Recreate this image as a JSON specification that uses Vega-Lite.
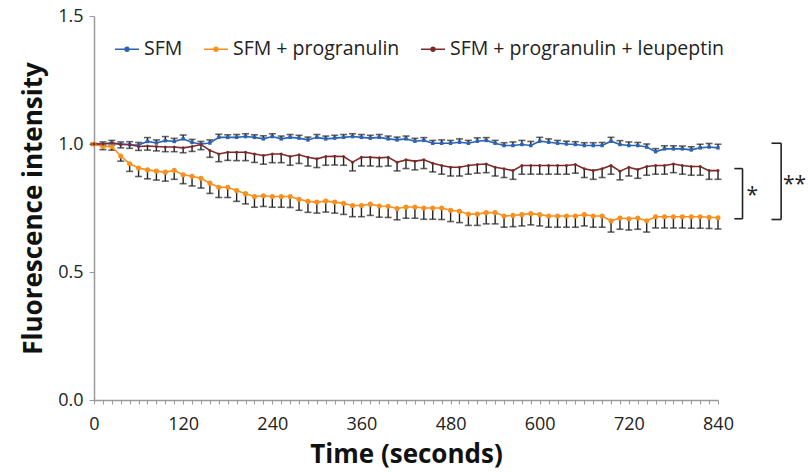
{
"$schema":"https://vega.github.io/schema/vega-lite/v6.json",
"width":624,"height":384,
"autosize":{"type":"none"},
"padding":{"left":94,"top":16,"right":90,"bottom":72},
"background":"white",
"config":{"view":{"stroke":null}},
"datasets":{
"d":[
{"t":0,"s":"SFM","v":1.000,"e":1.003},{"t":12,"s":"SFM","v":1.000,"e":1.008},{"t":24,"s":"SFM","v":1.004,"e":1.014},{"t":36,"s":"SFM","v":1.000,"e":1.008},{"t":48,"s":"SFM","v":0.997,"e":1.009},{"t":60,"s":"SFM","v":0.996,"e":1.006},{"t":72,"s":"SFM","v":1.010,"e":1.025},{"t":84,"s":"SFM","v":1.004,"e":1.016},{"t":96,"s":"SFM","v":1.013,"e":1.029},{"t":108,"s":"SFM","v":1.010,"e":1.022},{"t":120,"s":"SFM","v":1.020,"e":1.035},{"t":132,"s":"SFM","v":1.006,"e":1.018},{"t":144,"s":"SFM","v":1.000,"e":1.010},{"t":156,"s":"SFM","v":1.004,"e":1.016},{"t":168,"s":"SFM","v":1.026,"e":1.038},{"t":180,"s":"SFM","v":1.026,"e":1.036},{"t":192,"s":"SFM","v":1.026,"e":1.037},{"t":204,"s":"SFM","v":1.029,"e":1.040},{"t":216,"s":"SFM","v":1.026,"e":1.036},{"t":228,"s":"SFM","v":1.020,"e":1.032},{"t":240,"s":"SFM","v":1.029,"e":1.040},{"t":252,"s":"SFM","v":1.020,"e":1.031},{"t":264,"s":"SFM","v":1.026,"e":1.037},{"t":276,"s":"SFM","v":1.023,"e":1.034},{"t":288,"s":"SFM","v":1.016,"e":1.027},{"t":300,"s":"SFM","v":1.026,"e":1.037},{"t":312,"s":"SFM","v":1.020,"e":1.031},{"t":324,"s":"SFM","v":1.023,"e":1.034},{"t":336,"s":"SFM","v":1.026,"e":1.037},{"t":348,"s":"SFM","v":1.029,"e":1.040},{"t":360,"s":"SFM","v":1.026,"e":1.037},{"t":372,"s":"SFM","v":1.023,"e":1.034},{"t":384,"s":"SFM","v":1.026,"e":1.037},{"t":396,"s":"SFM","v":1.020,"e":1.031},{"t":408,"s":"SFM","v":1.016,"e":1.027},{"t":420,"s":"SFM","v":1.020,"e":1.031},{"t":432,"s":"SFM","v":1.011,"e":1.022},{"t":444,"s":"SFM","v":1.014,"e":1.025},{"t":456,"s":"SFM","v":1.003,"e":1.014},{"t":468,"s":"SFM","v":1.003,"e":1.016},{"t":480,"s":"SFM","v":1.003,"e":1.014},{"t":492,"s":"SFM","v":1.007,"e":1.020},{"t":504,"s":"SFM","v":1.003,"e":1.014},{"t":516,"s":"SFM","v":1.011,"e":1.024},{"t":528,"s":"SFM","v":1.014,"e":1.025},{"t":540,"s":"SFM","v":1.003,"e":1.014},{"t":552,"s":"SFM","v":0.994,"e":1.005},{"t":564,"s":"SFM","v":0.994,"e":1.008},{"t":576,"s":"SFM","v":0.998,"e":1.014},{"t":588,"s":"SFM","v":0.994,"e":1.010},{"t":600,"s":"SFM","v":1.011,"e":1.026},{"t":612,"s":"SFM","v":1.007,"e":1.020},{"t":624,"s":"SFM","v":1.003,"e":1.014},{"t":636,"s":"SFM","v":1.000,"e":1.011},{"t":648,"s":"SFM","v":0.998,"e":1.009},{"t":660,"s":"SFM","v":0.994,"e":1.005},{"t":672,"s":"SFM","v":0.994,"e":1.005},{"t":684,"s":"SFM","v":0.994,"e":1.006},{"t":696,"s":"SFM","v":1.011,"e":1.026},{"t":708,"s":"SFM","v":0.998,"e":1.013},{"t":720,"s":"SFM","v":0.994,"e":1.008},{"t":732,"s":"SFM","v":0.994,"e":1.006},{"t":744,"s":"SFM","v":0.988,"e":1.000},{"t":756,"s":"SFM","v":0.970,"e":0.982},{"t":768,"s":"SFM","v":0.981,"e":0.993},{"t":780,"s":"SFM","v":0.981,"e":0.993},{"t":792,"s":"SFM","v":0.981,"e":0.992},{"t":804,"s":"SFM","v":0.977,"e":0.989},{"t":816,"s":"SFM","v":0.985,"e":0.999},{"t":828,"s":"SFM","v":0.988,"e":1.002},{"t":840,"s":"SFM","v":0.985,"e":0.999},
{"t":0,"s":"SFM + progranulin","v":1.000,"e":1.000},{"t":12,"s":"SFM + progranulin","v":0.990,"e":0.978},{"t":24,"s":"SFM + progranulin","v":0.990,"e":0.976},{"t":36,"s":"SFM + progranulin","v":0.953,"e":0.933},{"t":48,"s":"SFM + progranulin","v":0.923,"e":0.893},{"t":60,"s":"SFM + progranulin","v":0.906,"e":0.873},{"t":72,"s":"SFM + progranulin","v":0.899,"e":0.864},{"t":84,"s":"SFM + progranulin","v":0.894,"e":0.859},{"t":96,"s":"SFM + progranulin","v":0.890,"e":0.855},{"t":108,"s":"SFM + progranulin","v":0.897,"e":0.862},{"t":120,"s":"SFM + progranulin","v":0.880,"e":0.845},{"t":132,"s":"SFM + progranulin","v":0.874,"e":0.836},{"t":144,"s":"SFM + progranulin","v":0.866,"e":0.828},{"t":156,"s":"SFM + progranulin","v":0.847,"e":0.807},{"t":168,"s":"SFM + progranulin","v":0.831,"e":0.791},{"t":180,"s":"SFM + progranulin","v":0.831,"e":0.791},{"t":192,"s":"SFM + progranulin","v":0.818,"e":0.776},{"t":204,"s":"SFM + progranulin","v":0.806,"e":0.766},{"t":216,"s":"SFM + progranulin","v":0.795,"e":0.753},{"t":228,"s":"SFM + progranulin","v":0.798,"e":0.756},{"t":240,"s":"SFM + progranulin","v":0.795,"e":0.753},{"t":252,"s":"SFM + progranulin","v":0.795,"e":0.753},{"t":264,"s":"SFM + progranulin","v":0.795,"e":0.752},{"t":276,"s":"SFM + progranulin","v":0.784,"e":0.741},{"t":288,"s":"SFM + progranulin","v":0.776,"e":0.733},{"t":300,"s":"SFM + progranulin","v":0.773,"e":0.730},{"t":312,"s":"SFM + progranulin","v":0.777,"e":0.734},{"t":324,"s":"SFM + progranulin","v":0.773,"e":0.730},{"t":336,"s":"SFM + progranulin","v":0.768,"e":0.725},{"t":348,"s":"SFM + progranulin","v":0.760,"e":0.716},{"t":360,"s":"SFM + progranulin","v":0.760,"e":0.716},{"t":372,"s":"SFM + progranulin","v":0.765,"e":0.721},{"t":384,"s":"SFM + progranulin","v":0.758,"e":0.714},{"t":396,"s":"SFM + progranulin","v":0.757,"e":0.713},{"t":408,"s":"SFM + progranulin","v":0.748,"e":0.704},{"t":420,"s":"SFM + progranulin","v":0.754,"e":0.710},{"t":432,"s":"SFM + progranulin","v":0.754,"e":0.710},{"t":444,"s":"SFM + progranulin","v":0.750,"e":0.706},{"t":456,"s":"SFM + progranulin","v":0.750,"e":0.706},{"t":468,"s":"SFM + progranulin","v":0.750,"e":0.705},{"t":480,"s":"SFM + progranulin","v":0.741,"e":0.697},{"t":492,"s":"SFM + progranulin","v":0.737,"e":0.693},{"t":504,"s":"SFM + progranulin","v":0.726,"e":0.682},{"t":516,"s":"SFM + progranulin","v":0.726,"e":0.682},{"t":528,"s":"SFM + progranulin","v":0.732,"e":0.688},{"t":540,"s":"SFM + progranulin","v":0.732,"e":0.688},{"t":552,"s":"SFM + progranulin","v":0.719,"e":0.675},{"t":564,"s":"SFM + progranulin","v":0.721,"e":0.677},{"t":576,"s":"SFM + progranulin","v":0.724,"e":0.680},{"t":588,"s":"SFM + progranulin","v":0.728,"e":0.684},{"t":600,"s":"SFM + progranulin","v":0.724,"e":0.680},{"t":612,"s":"SFM + progranulin","v":0.719,"e":0.675},{"t":624,"s":"SFM + progranulin","v":0.719,"e":0.675},{"t":636,"s":"SFM + progranulin","v":0.719,"e":0.675},{"t":648,"s":"SFM + progranulin","v":0.719,"e":0.675},{"t":660,"s":"SFM + progranulin","v":0.724,"e":0.680},{"t":672,"s":"SFM + progranulin","v":0.719,"e":0.675},{"t":684,"s":"SFM + progranulin","v":0.719,"e":0.675},{"t":696,"s":"SFM + progranulin","v":0.700,"e":0.656},{"t":708,"s":"SFM + progranulin","v":0.711,"e":0.667},{"t":720,"s":"SFM + progranulin","v":0.708,"e":0.664},{"t":732,"s":"SFM + progranulin","v":0.711,"e":0.667},{"t":744,"s":"SFM + progranulin","v":0.700,"e":0.656},{"t":756,"s":"SFM + progranulin","v":0.716,"e":0.672},{"t":768,"s":"SFM + progranulin","v":0.716,"e":0.672},{"t":780,"s":"SFM + progranulin","v":0.716,"e":0.672},{"t":792,"s":"SFM + progranulin","v":0.716,"e":0.672},{"t":804,"s":"SFM + progranulin","v":0.716,"e":0.671},{"t":816,"s":"SFM + progranulin","v":0.716,"e":0.671},{"t":828,"s":"SFM + progranulin","v":0.714,"e":0.670},{"t":840,"s":"SFM + progranulin","v":0.712,"e":0.668},
{"t":0,"s":"SFM + progranulin + leupeptin","v":1.000,"e":0.996},{"t":12,"s":"SFM + progranulin + leupeptin","v":1.000,"e":0.994},{"t":24,"s":"SFM + progranulin + leupeptin","v":1.004,"e":0.996},{"t":36,"s":"SFM + progranulin + leupeptin","v":0.998,"e":0.985},{"t":48,"s":"SFM + progranulin + leupeptin","v":0.998,"e":0.983},{"t":60,"s":"SFM + progranulin + leupeptin","v":0.990,"e":0.975},{"t":72,"s":"SFM + progranulin + leupeptin","v":0.992,"e":0.976},{"t":84,"s":"SFM + progranulin + leupeptin","v":0.990,"e":0.973},{"t":96,"s":"SFM + progranulin + leupeptin","v":0.988,"e":0.970},{"t":108,"s":"SFM + progranulin + leupeptin","v":0.988,"e":0.970},{"t":120,"s":"SFM + progranulin + leupeptin","v":0.985,"e":0.966},{"t":132,"s":"SFM + progranulin + leupeptin","v":0.990,"e":0.971},{"t":144,"s":"SFM + progranulin + leupeptin","v":0.998,"e":0.978},{"t":156,"s":"SFM + progranulin + leupeptin","v":0.975,"e":0.948},{"t":168,"s":"SFM + progranulin + leupeptin","v":0.961,"e":0.931},{"t":180,"s":"SFM + progranulin + leupeptin","v":0.968,"e":0.936},{"t":192,"s":"SFM + progranulin + leupeptin","v":0.968,"e":0.935},{"t":204,"s":"SFM + progranulin + leupeptin","v":0.968,"e":0.935},{"t":216,"s":"SFM + progranulin + leupeptin","v":0.961,"e":0.928},{"t":228,"s":"SFM + progranulin + leupeptin","v":0.955,"e":0.921},{"t":240,"s":"SFM + progranulin + leupeptin","v":0.961,"e":0.927},{"t":252,"s":"SFM + progranulin + leupeptin","v":0.961,"e":0.927},{"t":264,"s":"SFM + progranulin + leupeptin","v":0.951,"e":0.917},{"t":276,"s":"SFM + progranulin + leupeptin","v":0.958,"e":0.924},{"t":288,"s":"SFM + progranulin + leupeptin","v":0.948,"e":0.914},{"t":300,"s":"SFM + progranulin + leupeptin","v":0.942,"e":0.908},{"t":312,"s":"SFM + progranulin + leupeptin","v":0.951,"e":0.917},{"t":324,"s":"SFM + progranulin + leupeptin","v":0.952,"e":0.918},{"t":336,"s":"SFM + progranulin + leupeptin","v":0.951,"e":0.917},{"t":348,"s":"SFM + progranulin + leupeptin","v":0.929,"e":0.895},{"t":360,"s":"SFM + progranulin + leupeptin","v":0.948,"e":0.914},{"t":372,"s":"SFM + progranulin + leupeptin","v":0.948,"e":0.914},{"t":384,"s":"SFM + progranulin + leupeptin","v":0.946,"e":0.912},{"t":396,"s":"SFM + progranulin + leupeptin","v":0.948,"e":0.914},{"t":408,"s":"SFM + progranulin + leupeptin","v":0.929,"e":0.895},{"t":420,"s":"SFM + progranulin + leupeptin","v":0.938,"e":0.904},{"t":432,"s":"SFM + progranulin + leupeptin","v":0.933,"e":0.899},{"t":444,"s":"SFM + progranulin + leupeptin","v":0.938,"e":0.904},{"t":456,"s":"SFM + progranulin + leupeptin","v":0.925,"e":0.891},{"t":468,"s":"SFM + progranulin + leupeptin","v":0.916,"e":0.882},{"t":480,"s":"SFM + progranulin + leupeptin","v":0.909,"e":0.875},{"t":492,"s":"SFM + progranulin + leupeptin","v":0.909,"e":0.875},{"t":504,"s":"SFM + progranulin + leupeptin","v":0.916,"e":0.882},{"t":516,"s":"SFM + progranulin + leupeptin","v":0.920,"e":0.886},{"t":528,"s":"SFM + progranulin + leupeptin","v":0.922,"e":0.888},{"t":540,"s":"SFM + progranulin + leupeptin","v":0.909,"e":0.875},{"t":552,"s":"SFM + progranulin + leupeptin","v":0.903,"e":0.869},{"t":564,"s":"SFM + progranulin + leupeptin","v":0.896,"e":0.862},{"t":576,"s":"SFM + progranulin + leupeptin","v":0.916,"e":0.882},{"t":588,"s":"SFM + progranulin + leupeptin","v":0.916,"e":0.882},{"t":600,"s":"SFM + progranulin + leupeptin","v":0.916,"e":0.882},{"t":612,"s":"SFM + progranulin + leupeptin","v":0.916,"e":0.882},{"t":624,"s":"SFM + progranulin + leupeptin","v":0.916,"e":0.882},{"t":636,"s":"SFM + progranulin + leupeptin","v":0.916,"e":0.882},{"t":648,"s":"SFM + progranulin + leupeptin","v":0.920,"e":0.886},{"t":660,"s":"SFM + progranulin + leupeptin","v":0.903,"e":0.869},{"t":672,"s":"SFM + progranulin + leupeptin","v":0.896,"e":0.862},{"t":684,"s":"SFM + progranulin + leupeptin","v":0.903,"e":0.869},{"t":696,"s":"SFM + progranulin + leupeptin","v":0.916,"e":0.882},{"t":708,"s":"SFM + progranulin + leupeptin","v":0.894,"e":0.860},{"t":720,"s":"SFM + progranulin + leupeptin","v":0.909,"e":0.875},{"t":732,"s":"SFM + progranulin + leupeptin","v":0.900,"e":0.866},{"t":744,"s":"SFM + progranulin + leupeptin","v":0.912,"e":0.878},{"t":756,"s":"SFM + progranulin + leupeptin","v":0.916,"e":0.882},{"t":768,"s":"SFM + progranulin + leupeptin","v":0.916,"e":0.882},{"t":780,"s":"SFM + progranulin + leupeptin","v":0.922,"e":0.888},{"t":792,"s":"SFM + progranulin + leupeptin","v":0.916,"e":0.882},{"t":804,"s":"SFM + progranulin + leupeptin","v":0.912,"e":0.878},{"t":816,"s":"SFM + progranulin + leupeptin","v":0.912,"e":0.878},{"t":828,"s":"SFM + progranulin + leupeptin","v":0.896,"e":0.862},{"t":840,"s":"SFM + progranulin + leupeptin","v":0.896,"e":0.862}
],
"br":[
{"x":862,"x2":873,"y":0.904,"y2":0.904},{"x":873,"x2":873,"y":0.904,"y2":0.708},{"x":862,"x2":873,"y":0.708,"y2":0.708},
{"x":912,"x2":925,"y":1.003,"y2":1.003},{"x":925,"x2":925,"y":1.003,"y2":0.705},{"x":912,"x2":925,"y":0.705,"y2":0.705}
],
"st":[{"x":886,"y":0.795,"label":"*"},{"x":943,"y":0.84,"label":"**"}]
},
"layer":[
{"data":{"name":"d"},
 "mark":{"type":"rule","color":"#222222","strokeWidth":1.4},
 "encoding":{
  "x":{"field":"t","type":"quantitative","scale":{"domain":[0,840],"nice":false,"zero":false},
   "axis":{"title":"Time (seconds)","values":[0,12,24,36,48,60,72,84,96,108,120,132,144,156,168,180,192,204,216,228,240,252,264,276,288,300,312,324,336,348,360,372,384,396,408,420,432,444,456,468,480,492,504,516,528,540,552,564,576,588,600,612,624,636,648,660,672,684,696,708,720,732,744,756,768,780,792,804,816,828,840],
    "tickCount":200,
    "labelExpr":"datum.value % 120 == 0 ? datum.label : ''","format":"d","grid":false,
    "domainColor":"#9a9a9a","domainWidth":1.5,"tickColor":"#9a9a9a","tickSize":4,"tickWidth":1,
    "labelFont":"Open Sans","labelFontSize":18,"labelColor":"#222222","labelPadding":11,"labelOverlap":false,"labelFlush":false,
    "titleFont":"Open Sans","titleFontWeight":"bold","titleFontSize":26,"titleColor":"#111111","titlePadding":8}},
  "y":{"field":"v","type":"quantitative","scale":{"domain":[0,1.5],"nice":false,"zero":false},
   "axis":{"title":"Fluorescence intensity","values":[0,0.5,1,1.5],"format":".1f","grid":false,
    "domainColor":"#9a9a9a","domainWidth":1.5,"tickColor":"#9a9a9a","tickSize":5,"tickWidth":1,
    "labelFont":"Open Sans","labelFontSize":18,"labelColor":"#222222","labelPadding":6,
    "titleFont":"Open Sans","titleFontWeight":"bold","titleFontSize":26,"titleColor":"#111111","titlePadding":11}},
  "y2":{"field":"e"}
 }},
{"data":{"name":"d"},
 "mark":{"type":"tick","orient":"horizontal","color":"#222222","size":7,"thickness":1.6},
 "encoding":{
  "x":{"field":"t","type":"quantitative","scale":{"domain":[0,840],"nice":false,"zero":false}},
  "y":{"field":"e","type":"quantitative","scale":{"domain":[0,1.5],"nice":false,"zero":false}}
 }},
{"data":{"name":"d"},
 "mark":{"type":"line","strokeWidth":1.6},
 "encoding":{
  "x":{"field":"t","type":"quantitative","scale":{"domain":[0,840],"nice":false,"zero":false}},
  "y":{"field":"v","type":"quantitative","scale":{"domain":[0,1.5],"nice":false,"zero":false}},
  "color":{"field":"s","type":"nominal",
   "scale":{"domain":["SFM","SFM + progranulin","SFM + progranulin + leupeptin"],"range":["#2d63b3","#f7901e","#7d2a2a"]},
   "legend":{"title":null,"orient":"none","legendX":20,"legendY":20,"direction":"horizontal","padding":0,
    "symbolType":"M-1,0H1M-0.16,0A0.16,0.16,0,1,1,0.16,0A0.16,0.16,0,1,1,-0.16,0Z","symbolSize":576,"symbolStrokeWidth":1.5,
    "labelFont":"Open Sans","labelFontSize":19.5,"labelColor":"#222222","labelOffset":4,"labelLimit":400,"columnPadding":18,
    "encode":{"symbols":{"update":{"fill":{"scale":"color","field":"value"},"stroke":{"scale":"color","field":"value"}}}}}}
 }},
{"data":{"name":"d"},
 "transform":[{"filter":{"field":"s","equal":"SFM"}}],
 "mark":{"type":"point","filled":true,"opacity":1,"shape":"square","size":12,"color":"#2d63b3"},
 "encoding":{
  "x":{"field":"t","type":"quantitative","scale":{"domain":[0,840],"nice":false,"zero":false}},
  "y":{"field":"v","type":"quantitative","scale":{"domain":[0,1.5],"nice":false,"zero":false}}
 }},
{"data":{"name":"d"},
 "transform":[{"filter":{"field":"s","equal":"SFM + progranulin"}}],
 "mark":{"type":"point","filled":true,"opacity":1,"shape":"circle","size":26,"color":"#f7901e"},
 "encoding":{
  "x":{"field":"t","type":"quantitative","scale":{"domain":[0,840],"nice":false,"zero":false}},
  "y":{"field":"v","type":"quantitative","scale":{"domain":[0,1.5],"nice":false,"zero":false}}
 }},
{"data":{"name":"d"},
 "transform":[{"filter":{"field":"s","equal":"SFM + progranulin + leupeptin"}}],
 "mark":{"type":"point","filled":true,"opacity":1,"shape":"circle","size":9,"color":"#7d2a2a"},
 "encoding":{
  "x":{"field":"t","type":"quantitative","scale":{"domain":[0,840],"nice":false,"zero":false}},
  "y":{"field":"v","type":"quantitative","scale":{"domain":[0,1.5],"nice":false,"zero":false}}
 }},
{"data":{"name":"br"},
 "mark":{"type":"rule","color":"#222222","strokeWidth":1.6},
 "encoding":{
  "x":{"field":"x","type":"quantitative","scale":{"domain":[0,840],"nice":false,"zero":false}},
  "x2":{"field":"x2"},
  "y":{"field":"y","type":"quantitative","scale":{"domain":[0,1.5],"nice":false,"zero":false}},
  "y2":{"field":"y2"}
 }},
{"data":{"name":"st"},
 "mark":{"type":"text","font":"Open Sans","fontSize":21,"align":"center","baseline":"middle","color":"#222222"},
 "encoding":{
  "x":{"field":"x","type":"quantitative","scale":{"domain":[0,840],"nice":false,"zero":false}},
  "y":{"field":"y","type":"quantitative","scale":{"domain":[0,1.5],"nice":false,"zero":false}},
  "text":{"field":"label"}
 }}
]
}
